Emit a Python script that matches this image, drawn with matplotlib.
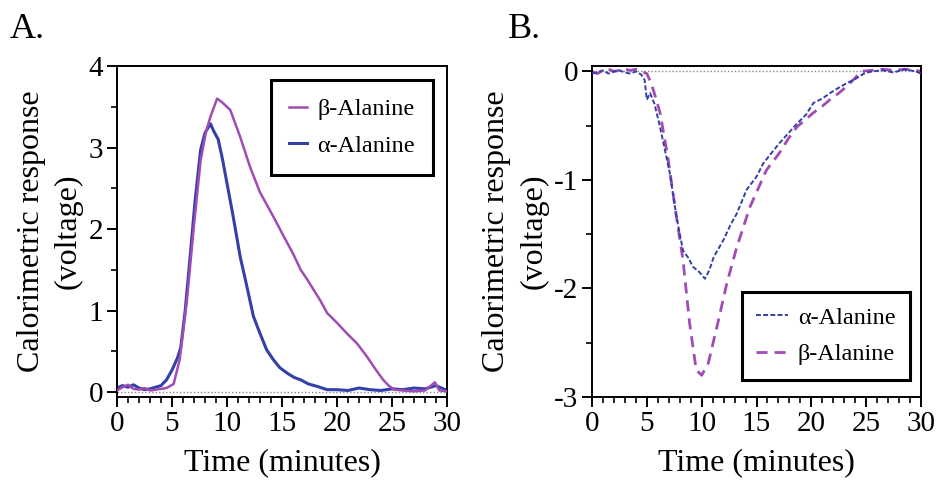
import matplotlib
matplotlib.use("Agg")
import matplotlib.pyplot as plt
from matplotlib.ticker import MultipleLocator

plt.rcParams['font.family'] = ['Liberation Serif', 'DejaVu Serif']
plt.rcParams['axes.unicode_minus'] = False

# ---- Panel A data (time in minutes, response in volts) ----
a_alpha_t = [0, 0.5, 1, 1.5, 2, 2.5, 3, 3.5, 4, 4.5, 5, 5.5, 5.8, 6.2, 6.7, 7.1, 7.6, 8.0, 8.5, 8.8, 9.2, 9.6, 10.0, 10.5,
             11.2, 11.8, 12.4, 13.0, 13.6, 14.2, 14.8, 15.5, 16.1, 16.7, 17.4, 18.2, 19.1, 20, 21, 22, 23, 24, 25, 26, 27, 28, 29, 30]
a_alpha_v = [0.05, 0.08, 0.06, 0.09, 0.05, 0.03, 0.04, 0.06, 0.08, 0.15, 0.27, 0.42, 0.55, 1.0, 1.74, 2.35, 2.97, 3.18, 3.29, 3.2, 3.1, 2.85, 2.56, 2.2,
             1.66, 1.3, 0.93, 0.72, 0.52, 0.4, 0.3, 0.23, 0.18, 0.15, 0.1, 0.07, 0.03, 0.03, 0.02, 0.05, 0.03, 0.02, 0.04, 0.03, 0.05, 0.04, 0.08, 0.02]

a_beta_t = [0, 0.5, 1, 1.5, 2, 2.5, 3, 3.5, 4, 4.5, 5.15, 5.7, 6.36, 7.0, 7.6, 8.1, 8.5, 9.1, 9.6, 10.3, 11.2, 12.1, 13.0, 13.9, 14.5, 15.2,
            16.0, 16.7, 17.3, 17.9, 18.5, 19.1, 20.0, 20.9, 21.8, 22.7, 23.5, 24.2, 24.7, 25.2, 26, 27, 28, 28.9, 29.3, 30]
a_beta_v = [0.02, 0.06, 0.09, 0.04, 0.03, 0.05, 0.02, 0.03, 0.04, 0.05, 0.1, 0.4, 1.13, 2.05, 2.84, 3.2, 3.38, 3.6, 3.55, 3.46, 3.13, 2.76, 2.45, 2.23, 2.08, 1.9,
            1.7, 1.5, 1.38, 1.25, 1.12, 0.97, 0.85, 0.72, 0.6, 0.44, 0.28, 0.15, 0.08, 0.03, 0.02, 0.01, 0.02, 0.12, 0.02, 0.01]

# ---- Panel B data ----
b_alpha_t = [0, 0.5, 1, 1.5, 2, 2.5, 3, 3.5, 4, 4.5, 4.8, 5.0, 5.3, 5.7, 6.2, 6.6, 7.1, 7.7, 8.3, 8.8, 9.2, 9.8, 10.3, 10.7, 11.1, 12.0,
             12.6, 13.2, 14.1, 15.0, 15.6, 16.3, 17.1, 17.9, 18.7, 19.5, 20.2, 21.0, 21.7, 22.5, 23.2, 24.0, 24.8, 25.5, 26.5, 27.5, 28.5, 29.5, 30]
b_alpha_v = [-0.02, -0.01, 0.01, -0.02, 0.0, 0.01, -0.01, -0.02, 0.0, -0.03, -0.08, -0.26, -0.2, -0.3, -0.51, -0.7, -0.94, -1.34, -1.65, -1.72, -1.8, -1.85, -1.91, -1.83, -1.71, -1.55,
             -1.42, -1.31, -1.09, -0.97, -0.85, -0.76, -0.66, -0.57, -0.48, -0.4, -0.29, -0.25, -0.2, -0.15, -0.11, -0.07, -0.02, 0.0, 0.01, -0.01, 0.02, 0.0, -0.02]

b_beta_t = [0, 0.5, 1, 1.5, 2, 2.5, 3, 3.5, 4, 4.5, 5.0, 5.4, 5.8, 6.2, 6.9, 7.7, 8.3, 8.9, 9.5, 10.0, 10.6, 11.4, 12.3, 13.2, 14.4, 15.9,
            17.1, 17.9, 18.7, 19.5, 20.2, 21.0, 21.7, 22.5, 23.2, 24.0, 24.5, 25.5, 26.5, 27.5, 28.5, 29.5, 30]
b_beta_v = [0.0, -0.02, 0.01, 0.02, 0.0, 0.01, 0.02, 0.01, 0.02, 0.0, -0.02, -0.11, -0.24, -0.38, -0.78, -1.34, -1.74, -2.32, -2.75, -2.8, -2.69, -2.35, -1.95, -1.62, -1.25, -0.91,
            -0.75, -0.62, -0.51, -0.44, -0.38, -0.32, -0.26, -0.2, -0.14, -0.06, 0.0, 0.01, 0.02, 0.01, 0.02, 0.01, 0.0]

x_ticks = [0, 5, 10, 15, 20, 25, 30]
a_yticks = [0, 1, 2, 3, 4]
b_yticks = [0, -1, -2, -3]

purple = '#A04CB4'
blue = '#3340A8'

W, H = 941, 493
fig = plt.figure(figsize=(W / 100, H / 100), dpi=100)

def px_axes(x0, x1, y0, y1):
    return fig.add_axes([x0 / W, 1 - y1 / H, (x1 - x0) / W, (y1 - y0) / H])

axA = px_axes(117, 447, 66, 397)
axB = px_axes(592, 921, 66, 397)

tick_fs = 21
label_fs = 23
leg_fs = 17.5

for ax in (axA, axB):
    for s in ax.spines.values():
        s.set_linewidth(1.4)
    ax.set_xlim(0, 30)
    ax.set_xticks(x_ticks)
    ax.xaxis.set_minor_locator(MultipleLocator(1))
    ax.yaxis.set_minor_locator(MultipleLocator(0.5))
    ax.tick_params(which='major', direction='out', length=7, width=1.4, labelsize=tick_fs, pad=3)
    ax.tick_params(which='minor', direction='out', length=4, width=1.2)
    ax.axhline(0, color='#888888', lw=1.0, ls=(0, (1, 1.5)), zorder=1)
    ax.set_xlabel('Time (minutes)', fontsize=label_fs, labelpad=8)
    ax.set_ylabel('Calorimetric response\n(voltage)', fontsize=label_fs, labelpad=4, linespacing=1.35)

# Panel A
axA.set_ylim(-0.06, 4)
axA.set_yticks(a_yticks)
axA.plot(a_beta_t, a_beta_v, color=purple, lw=1.8, label='β-Alanine', zorder=3)
axA.plot(a_alpha_t, a_alpha_v, color=blue, lw=2.2, label='α-Alanine', zorder=2)
legA = axA.legend(loc='upper right', bbox_to_anchor=((433 - 117) / 330, 1 - (80 - 66) / 331),
                  fontsize=leg_fs, frameon=True, fancybox=False, framealpha=1, handlelength=0.75,
                  handletextpad=0.4, borderpad=0.75, labelspacing=0.6, borderaxespad=0)
legA.get_frame().set_edgecolor('black')
legA.get_frame().set_linewidth(2.2)

# Panel B
axB.set_ylim(-3, 0.05)
axB.set_yticks(b_yticks)
axB.plot(b_alpha_t, b_alpha_v, color=blue, lw=1.4, ls=(0, (2.5, 1.2)), label='α-Alanine', zorder=3)
axB.plot(b_beta_t, b_beta_v, color=purple, lw=2.0, ls=(0, (4, 2.5)), label='β-Alanine', zorder=2)
legB = axB.legend(loc='upper right', bbox_to_anchor=((910 - 592) / 329, 1 - (292 - 66) / 331),
                  fontsize=leg_fs, frameon=True, fancybox=False, framealpha=1, handlelength=1.3,
                  handletextpad=0.4, borderpad=0.6, labelspacing=0.6, borderaxespad=0)
legB.get_frame().set_edgecolor('black')
legB.get_frame().set_linewidth(2.2)

fig.text(10 / W, 1 - 38 / H, 'A.', fontsize=26)
fig.text(508 / W, 1 - 38 / H, 'B.', fontsize=26)

fig.savefig('out.png', dpi=100)
